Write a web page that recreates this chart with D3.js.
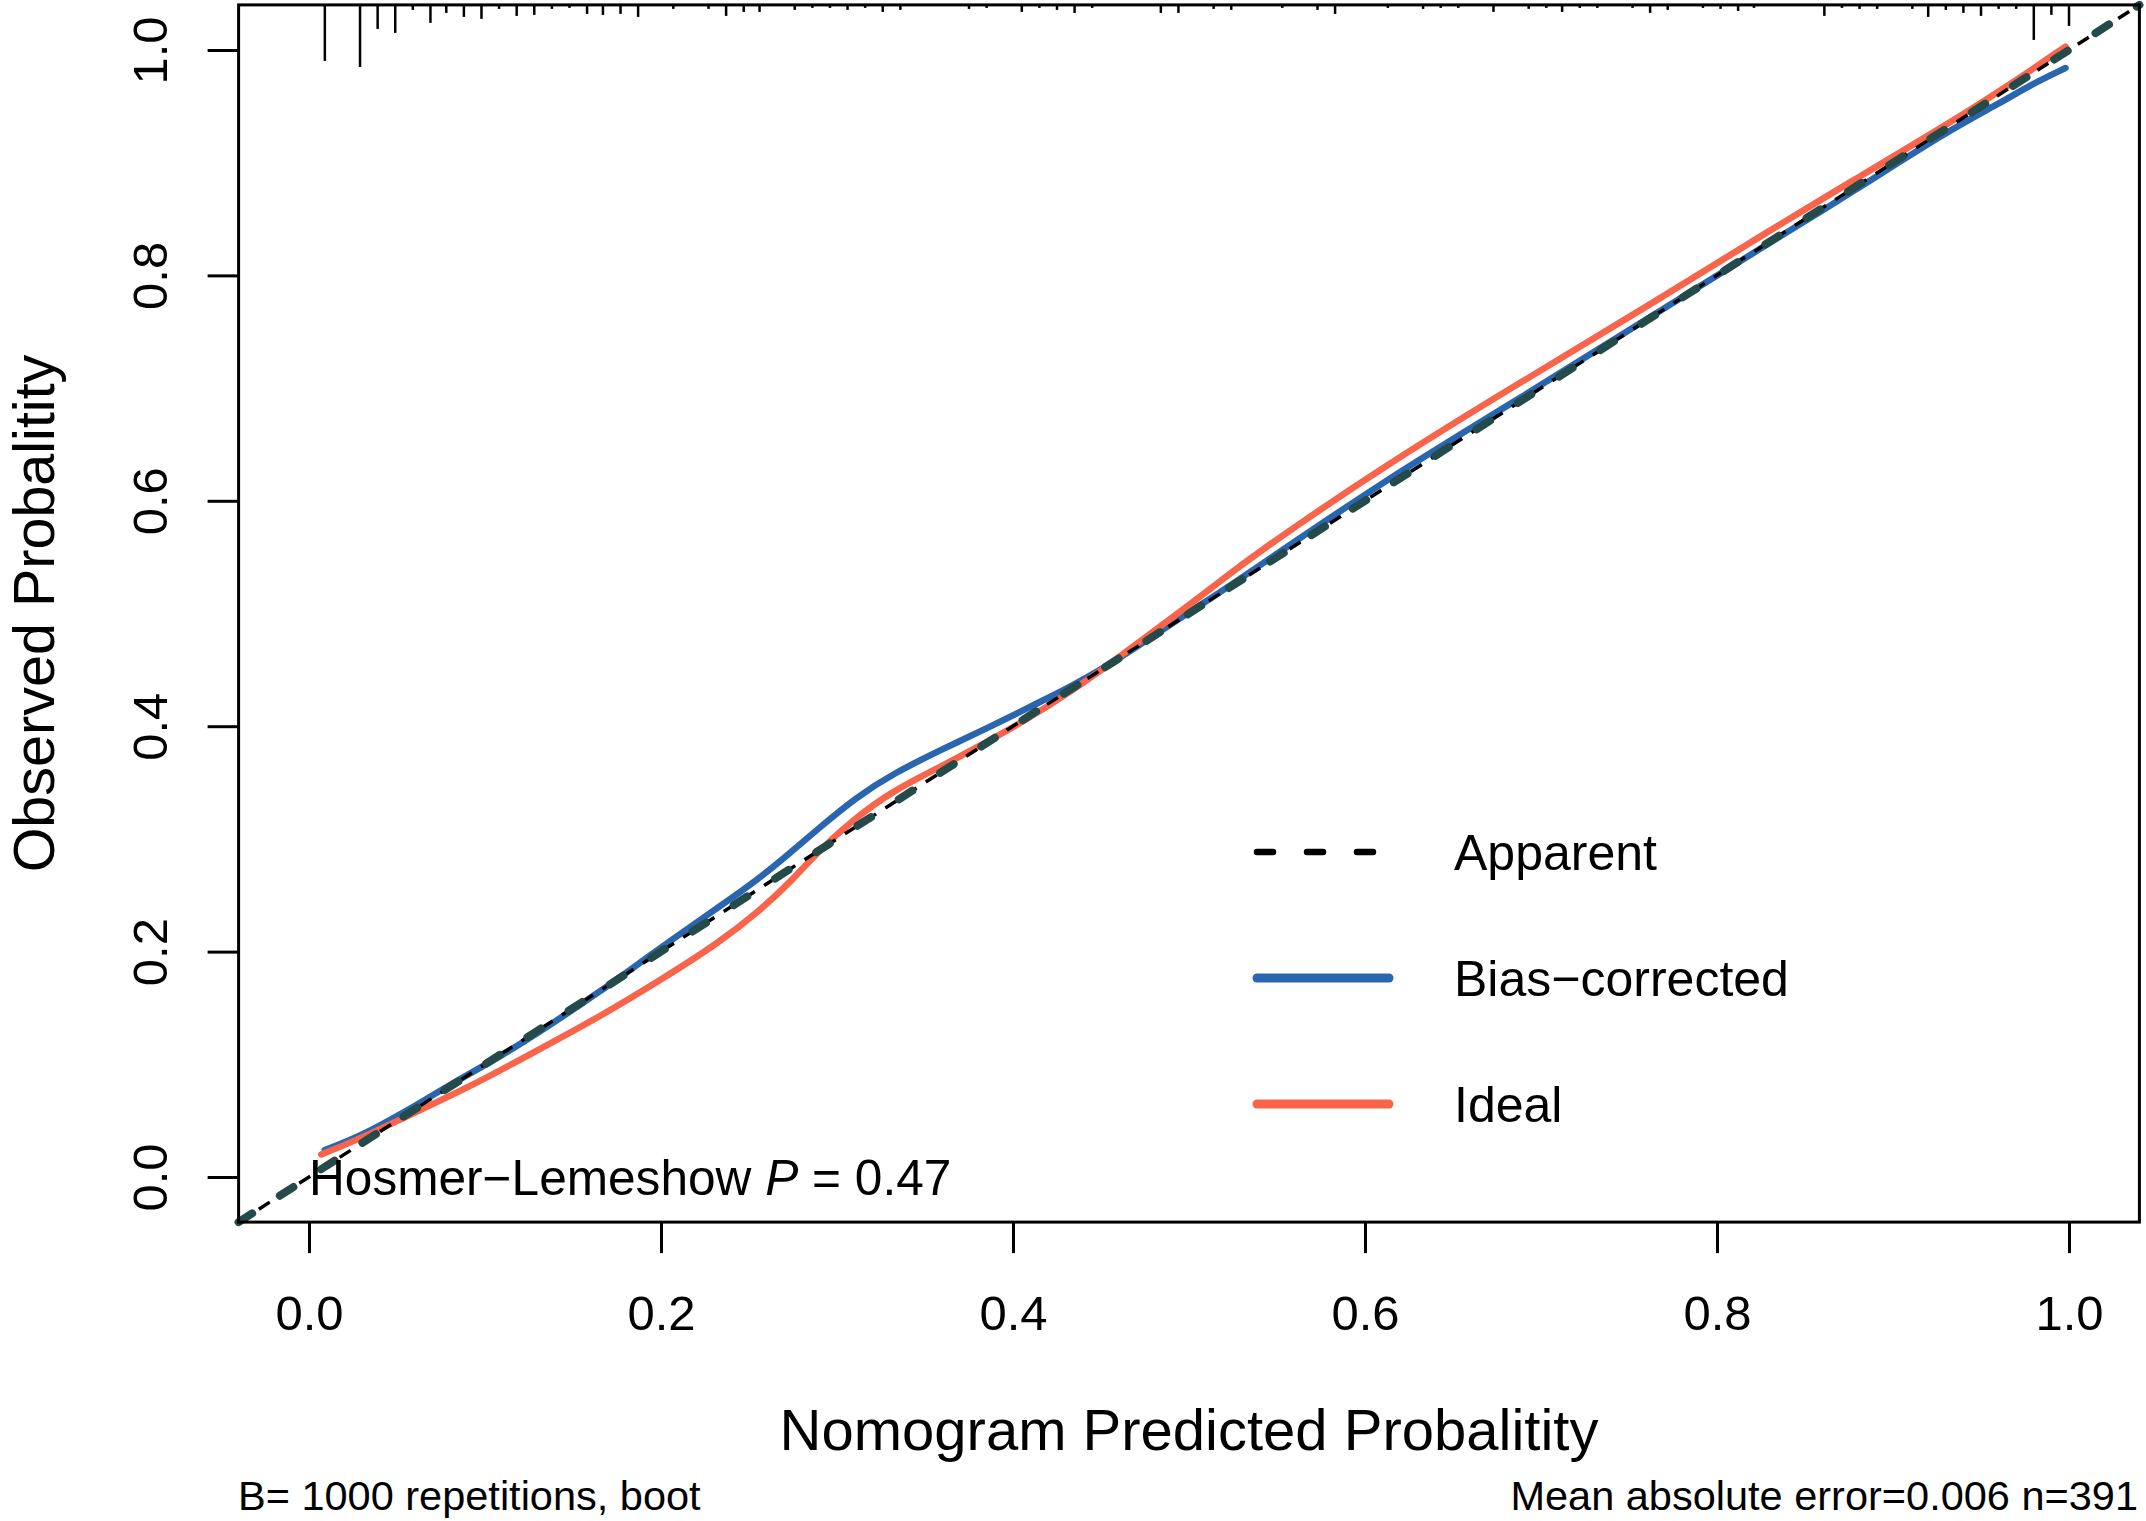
<!DOCTYPE html>
<html><head><meta charset="utf-8">
<script src="https://cdn.jsdelivr.net/npm/d3@7"></script>
<style>
body{margin:0;background:#fff}
text{font-family:"Liberation Sans",Arial,Helvetica,sans-serif;fill:#000}
</style>
</head><body>
<svg id="c" width="2146" height="1521"></svg>
<script>
// ---- data ----
const xTickValues = [0, 0.2, 0.4, 0.6, 0.8, 1.0];
const yTickValues = [0, 0.2, 0.4, 0.6, 0.8, 1.0];
const tickLabels = ["0.0", "0.2", "0.4", "0.6", "0.8", "1.0"];

const biasX = [0.009,0.029,0.056,0.080,0.109,0.137,0.165,0.194,0.222,0.251,0.270,0.290,0.311,0.332,0.359,0.389,0.412,0.434,0.453,0.472,0.491,0.514,0.535,0.610,0.686,0.762,0.830,0.876,0.932,0.961,0.978,0.998];
const biasY = [0.024,0.036,0.059,0.082,0.107,0.135,0.164,0.197,0.228,0.259,0.283,0.310,0.337,0.358,0.379,0.401,0.419,0.436,0.453,0.472,0.492,0.515,0.537,0.617,0.689,0.763,0.829,0.873,0.929,0.953,0.969,0.984];

const idealX = [0.007,0.029,0.057,0.090,0.127,0.165,0.203,0.232,0.256,0.275,0.290,0.309,0.332,0.359,0.385,0.408,0.434,0.453,0.472,0.491,0.514,0.535,0.610,0.686,0.762,0.830,0.876,0.932,0.970,0.998];
const idealY = [0.020,0.034,0.055,0.079,0.110,0.142,0.178,0.207,0.236,0.264,0.290,0.317,0.343,0.364,0.386,0.406,0.432,0.453,0.475,0.497,0.524,0.550,0.630,0.703,0.774,0.840,0.883,0.935,0.973,1.003];

const diagonalX = [-0.04, 1.04];
const diagonalY = [-0.04, 1.04];

const riskX = [0.009,0.029,0.039,0.049,0.059,0.069,0.078,0.088,0.098,0.108,0.118,0.128,0.138,0.148,0.158,0.167,0.177,0.187,0.207,0.227,0.237,0.247,0.256,0.276,0.286,0.296,0.306,0.316,0.326,0.336,0.375,0.385,0.405,0.415,0.425,0.435,0.445,0.484,0.494,
  0.514,0.524,0.553,0.573,0.583,0.613,0.633,0.643,0.653,0.673,0.693,0.703,0.712,0.722,0.732,0.752,0.762,0.772,0.792,0.802,0.812,0.821,0.861,0.871,0.881,0.891,0.911,0.920,0.930,0.940,0.950,0.960,0.970,0.980,0.990,1.000];
const riskFreq = [56,62,24,28,5,18,8,12,14,4,11,10,4,3,9,10,9,12,4,4,11,7,7,5,3,3,5,3,7,5,4,3,7,3,5,8,3,8,8,
  4,5,3,5,9,3,4,3,3,7,4,3,7,3,3,3,8,5,3,4,6,3,11,3,4,4,4,12,5,8,11,4,4,35,10,21];

const legendLabels = ["Apparent", "Bias\u2212corrected", "Ideal"];
const xTitle = "Nomogram Predicted Probalitity";
const yTitle = "Observed Probalitity";
const hlLabel = "Hosmer\u2212Lemeshow ";
const hlP = "P";
const hlValue = " = 0.47";
const noteLeft = "B= 1000 repetitions, boot";
const noteRight = "Mean absolute error=0.006 n=391";

// ---- colours ----
const BLUE = "#2A66B0";
const ORANGE = "#F9644A";
const DARK = "#244A4A";

// ---- layout ----
const svg = d3.select("#c");
const L = 238.6, R = 2139.4, T = 4.9, B = 1222.1;
const x = d3.scaleLinear().domain([-0.04, 1.04]).range([L, R]);
const y = d3.scaleLinear().domain([-0.04, 1.04]).range([B, T]);

svg.append("rect").attr("width", 2146).attr("height", 1521).attr("fill", "#fff");

// rug / risk distribution at top
const lenScale = d3.scaleLinear().domain([0, d3.max(riskFreq)]).range([0, 62]);
svg.append("g").selectAll("line").data(riskX).join("line")
  .attr("x1", d => x(d)).attr("x2", d => x(d))
  .attr("y1", T).attr("y2", (d, i) => T + lenScale(riskFreq[i]))
  .attr("stroke", "#000").attr("stroke-width", 2.5);

const line = d3.line().x(d => x(d[0])).y(d => y(d[1])).curve(d3.curveBasis);

// bias-corrected
svg.append("path").datum(biasX.map((v, i) => [v, biasY[i]]))
  .attr("d", line).attr("fill", "none").attr("stroke", BLUE)
  .attr("stroke-width", 6.5).attr("stroke-linecap", "round").attr("stroke-linejoin", "round");
// ideal (orange)
svg.append("path").datum(idealX.map((v, i) => [v, idealY[i]]))
  .attr("d", line).attr("fill", "none").attr("stroke", ORANGE)
  .attr("stroke-width", 6.5).attr("stroke-linecap", "round").attr("stroke-linejoin", "round");

// diagonal reference lines
const diag = diagonalX.map((v, i) => [v, diagonalY[i]]);
const dline = d3.line().x(d => x(d[0])).y(d => y(d[1]));
svg.append("path").datum(diag).attr("d", dline)
  .attr("fill", "none").attr("stroke", "#000").attr("stroke-width", 3.5)
  .attr("stroke-dasharray", "13,11");
svg.append("path").datum(diag).attr("d", dline)
  .attr("fill", "none").attr("stroke", DARK).attr("stroke-width", 8)
  .attr("stroke-linecap", "round").attr("stroke-dasharray", "16,33");

// plot box
svg.append("rect").attr("x", L).attr("y", T).attr("width", R - L).attr("height", B - T)
  .attr("fill", "none").attr("stroke", "#000").attr("stroke-width", 3);

// x axis
const gx = svg.append("g").attr("transform", `translate(0,${B})`)
  .call(d3.axisBottom(x).tickValues(xTickValues).tickSize(31).tickFormat((d, i) => tickLabels[i]));
gx.select(".domain").remove();
gx.selectAll(".tick line").attr("stroke", "#000").attr("stroke-width", 3);
gx.selectAll(".tick text").attr("y", 108).attr("dy", null)
  .style("font-size", "49px").style("font-family", '"Liberation Sans",Arial,sans-serif').attr("fill", "#000");

// y axis
const gy = svg.append("g").attr("transform", `translate(${L},0)`)
  .call(d3.axisLeft(y).tickValues(yTickValues).tickSize(31).tickFormat((d, i) => tickLabels[i]));
gy.select(".domain").remove();
gy.selectAll(".tick line").attr("stroke", "#000").attr("stroke-width", 3);
gy.selectAll(".tick text").attr("x", 0).attr("y", -71.6).attr("dy", null)
  .attr("transform", "rotate(-90)").attr("text-anchor", "middle")
  .style("font-size", "49px").style("font-family", '"Liberation Sans",Arial,sans-serif').attr("fill", "#000");

// titles
svg.append("text").attr("x", (L + R) / 2).attr("y", 1450).attr("text-anchor", "middle")
  .style("font-size", "58px").text(xTitle);
svg.append("text").attr("transform", `translate(54,${(T + B) / 2}) rotate(-90)`)
  .attr("text-anchor", "middle").style("font-size", "57.5px").text(yTitle);

// Hosmer-Lemeshow annotation
const hl = svg.append("text").attr("x", x(0)).attr("y", y(0)).attr("dy", "0.36em")
  .style("font-size", "49.6px");
hl.append("tspan").text(hlLabel);
hl.append("tspan").style("font-style", "italic").text(hlP);
hl.append("tspan").text(hlValue);

// legend
const legY = [852, 978, 1104];
const lg = svg.append("g");
legendLabels.forEach((lab, i) => {
  const ln = lg.append("line").attr("x1", 1257).attr("x2", 1389).attr("y1", legY[i]).attr("y2", legY[i])
    .attr("stroke-linecap", "round");
  if (i === 0) ln.attr("stroke", "#000").attr("stroke-width", 6.5).attr("stroke-dasharray", "16,34");
  else ln.attr("stroke", i === 1 ? BLUE : ORANGE).attr("stroke-width", 9);
  lg.append("text").attr("x", 1454).attr("y", legY[i]).attr("dy", "0.36em")
    .style("font-size", "50px").text(lab);
});

// notes
svg.append("text").attr("x", 238).attr("y", 1510).style("font-size", "41.5px").text(noteLeft);
svg.append("text").attr("x", 2138).attr("y", 1510).attr("text-anchor", "end").style("font-size", "41.5px").text(noteRight);
</script>
</body></html>
